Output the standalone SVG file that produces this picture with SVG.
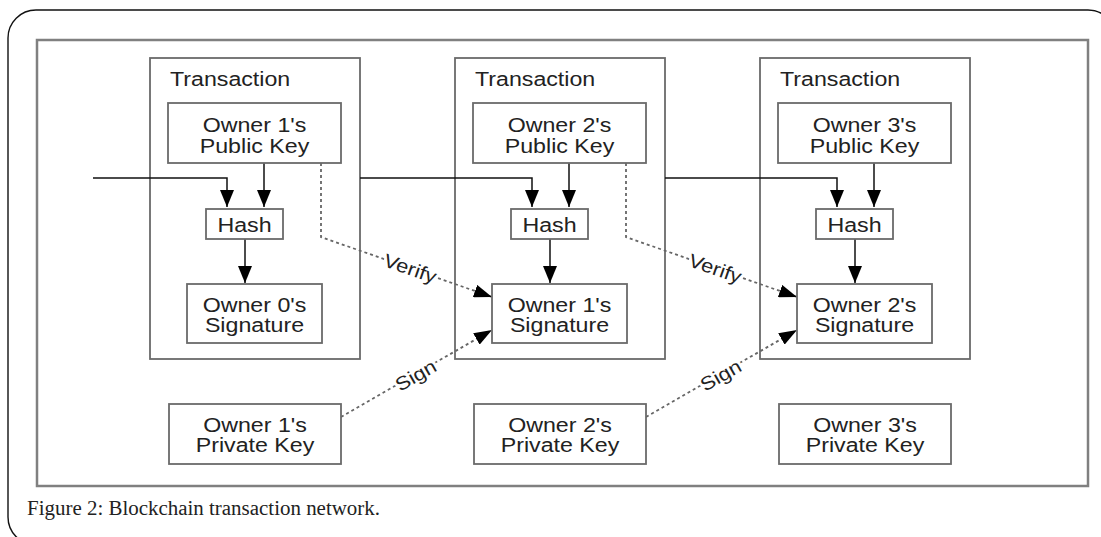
<svg xmlns="http://www.w3.org/2000/svg" width="1101" height="537" viewBox="0 0 1101 537">
<style>
.frame{fill:none;stroke:#111;stroke-width:1.4}
.panel{fill:none;stroke:#808080;stroke-width:2.5}
.box{fill:#fff;stroke:#6a6a6a;stroke-width:1.8}
.tx{fill:none;stroke:#6a6a6a;stroke-width:1.8}
.t{font-family:"Liberation Sans",Arial,sans-serif;font-size:20px;fill:#222;text-anchor:middle}
.tl{font-family:"Liberation Sans",Arial,sans-serif;font-size:20px;fill:#222;text-anchor:start}
.lbl{font-family:"Liberation Sans",Arial,sans-serif;font-size:19px;fill:#222;text-anchor:middle;stroke:#fff;stroke-width:5;paint-order:stroke;stroke-linejoin:round}
.solid{fill:none;stroke:#111;stroke-width:1.5;marker-end:url(#ah)}
.dot{fill:none;stroke:#666;stroke-width:1.8;stroke-dasharray:3 3;marker-end:url(#ad)}
.cap{font-family:"Liberation Serif","Times New Roman",serif;font-size:20px;fill:#222}
</style>
<defs>
<marker id="ah" markerUnits="userSpaceOnUse" markerWidth="18" markerHeight="14" refX="17" refY="7" orient="auto"><path d="M0,0 L17,7 L0,14 Z" fill="#000"/></marker>
<marker id="ad" markerUnits="userSpaceOnUse" markerWidth="19" markerHeight="13" refX="18" refY="6.5" orient="auto"><path d="M0,0 L18,6.5 L0,13 Z" fill="#000"/></marker>
</defs>
<rect width="1101" height="537" fill="#fff"/>
<rect class="frame" x="8" y="10" width="1108" height="535" rx="28" ry="28"/>
<rect class="panel" x="37" y="40" width="1051" height="446"/>

<g id="tx1">
<rect class="tx" x="150" y="58" width="210" height="301"/>
<text class="tl" transform="translate(170 86) scale(1.16 1)">Transaction</text>
</g>
<g id="tx2">
<rect class="tx" x="455" y="58" width="210" height="301"/>
<text class="tl" transform="translate(475 86) scale(1.16 1)">Transaction</text>
</g>
<g id="tx3">
<rect class="tx" x="760" y="58" width="210" height="301"/>
<text class="tl" transform="translate(780 86) scale(1.16 1)">Transaction</text>
</g>

<g id="connectors">
<path class="solid" d="M93,178 H227 V207"/>
<path class="solid" d="M360,178 H532 V207"/>
<path class="solid" d="M665,178 H837 V207"/>
<path class="solid" d="M264,163 V207"/>
<path class="solid" d="M569,163 V207"/>
<path class="solid" d="M874,163 V207"/>
<path class="solid" d="M245,239 V283"/>
<path class="solid" d="M550,239 V283"/>
<path class="solid" d="M855,239 V283"/>
<path class="dot" d="M321,163 V237 L492,297"/>
<path class="dot" d="M626,163 V237 L797,297"/>
<path class="dot" d="M341,417 L492,330"/>
<path class="dot" d="M646,417 L797,330"/>
<text class="lbl" transform="translate(410 269) rotate(19.3) scale(1.15 1)" y="6">Verify</text>
<text class="lbl" transform="translate(715 269) rotate(19.3) scale(1.15 1)" y="6">Verify</text>
<text class="lbl" transform="translate(416 376) rotate(-29.9) scale(1.15 1)" y="6">Sign</text>
<text class="lbl" transform="translate(721 376) rotate(-29.9) scale(1.15 1)" y="6">Sign</text>
</g>

<g id="pub1">
<rect class="box" x="168" y="103" width="173" height="60"/>
<text class="t" transform="translate(254.5 132) scale(1.16 1)">Owner 1's</text>
<text class="t" transform="translate(254.5 153) scale(1.16 1)">Public Key</text>
</g>
<g id="hash1">
<rect class="box" x="206" y="209" width="77" height="30"/>
<text class="t" transform="translate(244.5 232) scale(1.16 1)">Hash</text>
</g>
<g id="sig1">
<rect class="box" x="187" y="284" width="135" height="59"/>
<text class="t" transform="translate(254.5 312) scale(1.16 1)">Owner 0's</text>
<text class="t" transform="translate(254.5 332) scale(1.16 1)">Signature</text>
</g>
<g id="priv1">
<rect class="box" x="169" y="404" width="172" height="60"/>
<text class="t" transform="translate(255 432) scale(1.16 1)">Owner 1's</text>
<text class="t" transform="translate(255 452) scale(1.16 1)">Private Key</text>
</g>

<g id="pub2">
<rect class="box" x="473" y="103" width="173" height="60"/>
<text class="t" transform="translate(559.5 132) scale(1.16 1)">Owner 2's</text>
<text class="t" transform="translate(559.5 153) scale(1.16 1)">Public Key</text>
</g>
<g id="hash2">
<rect class="box" x="511" y="209" width="77" height="30"/>
<text class="t" transform="translate(549.5 232) scale(1.16 1)">Hash</text>
</g>
<g id="sig2">
<rect class="box" x="492" y="284" width="135" height="59"/>
<text class="t" transform="translate(559.5 312) scale(1.16 1)">Owner 1's</text>
<text class="t" transform="translate(559.5 332) scale(1.16 1)">Signature</text>
</g>
<g id="priv2">
<rect class="box" x="474" y="404" width="172" height="60"/>
<text class="t" transform="translate(560 432) scale(1.16 1)">Owner 2's</text>
<text class="t" transform="translate(560 452) scale(1.16 1)">Private Key</text>
</g>

<g id="pub3">
<rect class="box" x="778" y="103" width="173" height="60"/>
<text class="t" transform="translate(864.5 132) scale(1.16 1)">Owner 3's</text>
<text class="t" transform="translate(864.5 153) scale(1.16 1)">Public Key</text>
</g>
<g id="hash3">
<rect class="box" x="816" y="209" width="77" height="30"/>
<text class="t" transform="translate(854.5 232) scale(1.16 1)">Hash</text>
</g>
<g id="sig3">
<rect class="box" x="797" y="284" width="135" height="59"/>
<text class="t" transform="translate(864.5 312) scale(1.16 1)">Owner 2's</text>
<text class="t" transform="translate(864.5 332) scale(1.16 1)">Signature</text>
</g>
<g id="priv3">
<rect class="box" x="779" y="404" width="172" height="60"/>
<text class="t" transform="translate(865 432) scale(1.16 1)">Owner 3's</text>
<text class="t" transform="translate(865 452) scale(1.16 1)">Private Key</text>
</g>

<text class="cap" x="27" y="515" textLength="353" lengthAdjust="spacingAndGlyphs">Figure 2: Blockchain transaction network.</text>
</svg>
